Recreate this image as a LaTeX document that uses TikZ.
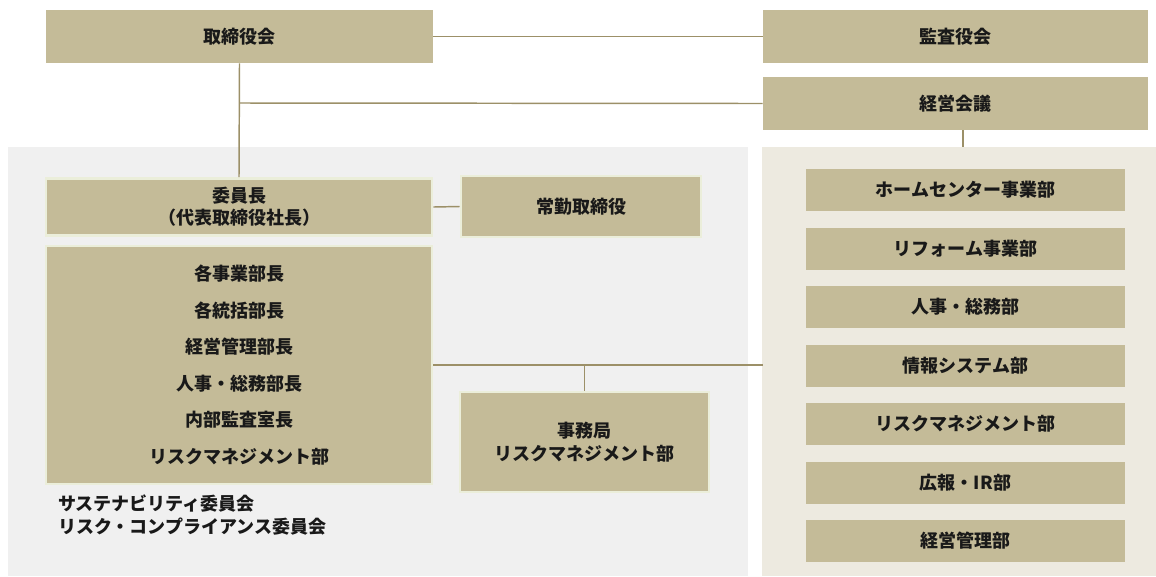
\documentclass[tikz,border=0pt]{standalone}
\usepackage{fontspec}
\setmainfont{Noto Sans CJK JP}
\definecolor{boxfill}{HTML}{C4BB98}
\definecolor{boxedge}{HTML}{EBEEDA}
\definecolor{lnk}{HTML}{9C9068}
\definecolor{lpanel}{HTML}{F0F0F0}
\definecolor{rpanel}{HTML}{EDEAE0}
\tikzset{
  base/.style={fill=boxfill, inner sep=0pt, align=center, text=black!90,
    font=\fontsize{13.5}{16.8}\selectfont\bfseries},
  topbox/.style={base, draw=none},
  inbox/.style={base, draw=boxedge, line width=2.2pt},
  lnkline/.style={draw=lnk, line width=1.1pt},
  note/.style={anchor=north west, align=left, inner sep=0pt, text=black!90,
    font=\fontsize{13.5}{16.8}\selectfont\bfseries}
}
\begin{document}
\begin{tikzpicture}[x=0.75pt,y=-0.75pt]
\useasboundingbox (0,0) rectangle (1156,576);
\fill[white] (0,0) rectangle (1156,576);
% panels
\fill[lpanel] (8,147) rectangle (748,576);
\fill[rpanel] (762,147) rectangle (1156,576);
% top
\node[topbox, minimum width=387*0.75pt, minimum height=53*0.75pt] (tori) at (239.5,36.5) {取締役会};
\node[topbox, minimum width=385*0.75pt, minimum height=53*0.75pt] (kansa) at (955.5,36.5) {監査役会};
\node[topbox, minimum width=385*0.75pt, minimum height=53*0.75pt] (keiei) at (955.5,103.5) {経営会議};
% left panel boxes
\node[inbox, minimum width=386*0.75pt, minimum height=57*0.75pt] (iin) at (239,207) {委員長\\（代表取締役社長）};
\node[inbox, minimum width=240*0.75pt, minimum height=61*0.75pt] (jokin) at (581,206.5) {常勤取締役};
\node[inbox, minimum width=386*0.75pt, minimum height=238*0.75pt, font=\fontsize{13.5}{27.4}\selectfont\bfseries] (members) at (239,365) {各事業部長\\各統括部長\\経営管理部長\\人事・総務部長\\内部監査室長\\リスクマネジメント部};
\node[inbox, minimum width=249*0.75pt, minimum height=100*0.75pt, font=\fontsize{13.5}{17.2}\selectfont\bfseries] (jimu) at (584.5,442) {事務局\\リスクマネジメント部};
\node[note] (comm) at (58,495) {サステナビリティ委員会\\リスク・コンプライアンス委員会};
% right panel boxes
\foreach \i/\t in {0/ホームセンター事業部,1/リフォーム事業部,2/人事・総務部,3/情報システム部,4/リスクマネジメント部,5/広報・IR部,6/経営管理部}{
  \node[topbox, minimum width=319*0.75pt, minimum height=42*0.75pt] (d\i) at (965.5,190+58.5*\i) {\t};
}
\coordinate (rp) at (963,147);
\coordinate (rpl) at (763,365);
% connectors
\draw[lnkline] (tori.east) -- (kansa.west);
\draw[lnkline] (tori.south) -- (iin.north);
\draw[lnkline] (240,103) -- (keiei.west);
\draw[lnkline] (keiei.south -| rp) -- (rp);
\draw[lnkline] (iin.east) -- (jokin.west);
\draw[lnkline] (members.east) -- (rpl);
\draw[lnkline] (jimu.north) -- (jimu.north |- rpl);
\end{tikzpicture}
\end{document}
